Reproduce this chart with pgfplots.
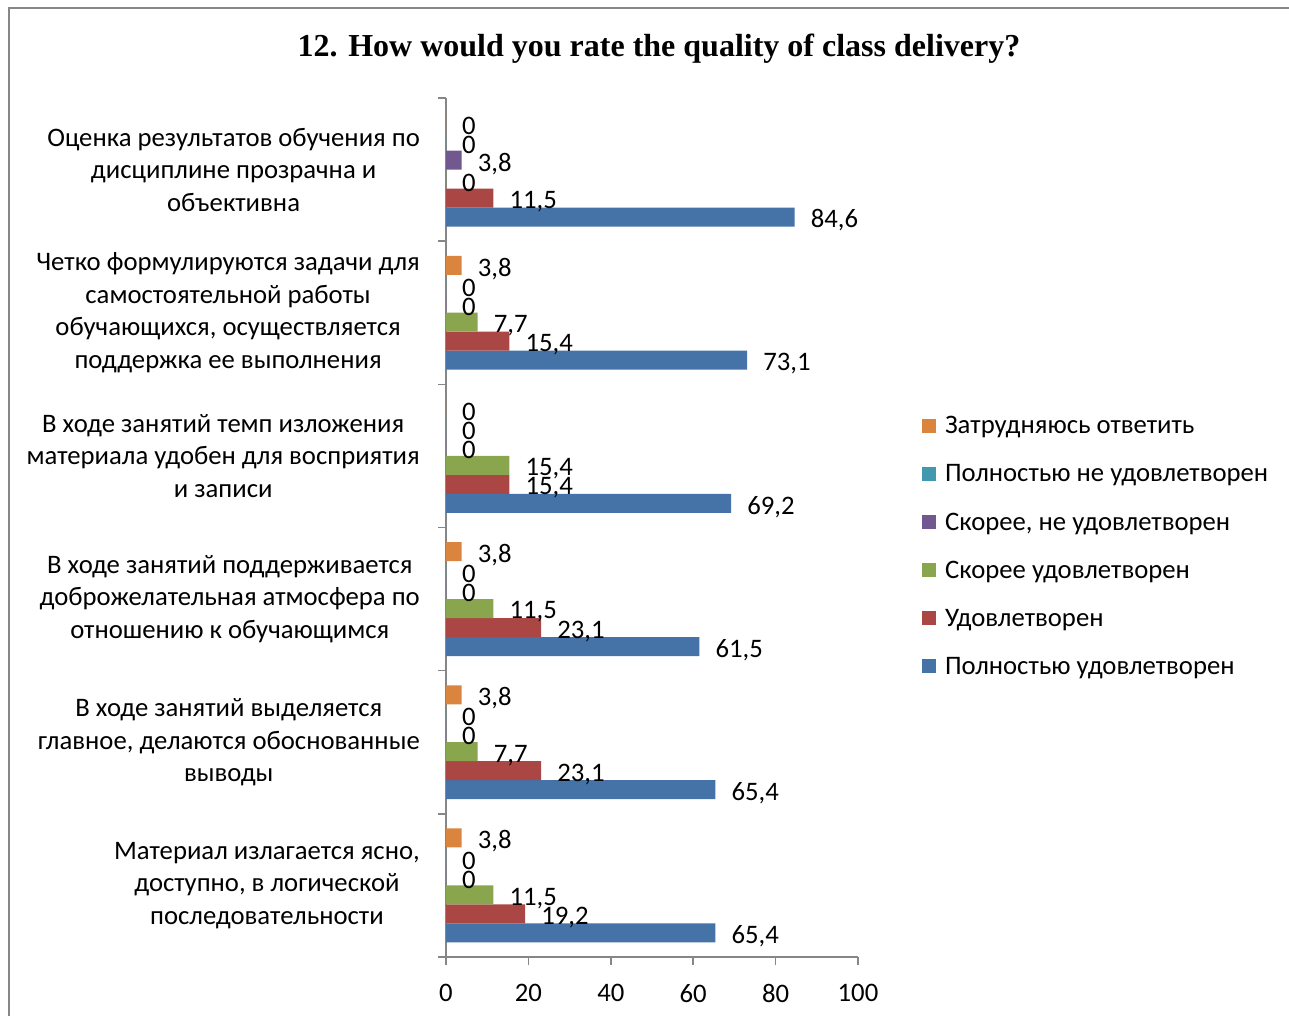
\documentclass[border=0pt]{standalone}
\usepackage{pgfplots}
\pgfplotsset{compat=1.18}
\usepackage{fontspec}
\setmainfont{Carlito}
\newfontfamily\titlefont{Liberation Serif}

\definecolor{cBlue}{HTML}{4572A7}
\definecolor{cRed}{HTML}{AA4643}
\definecolor{cGreen}{HTML}{89A54E}
\definecolor{cPurple}{HTML}{71588F}
\definecolor{cTeal}{HTML}{4198AF}
\definecolor{cOrange}{HTML}{DB843D}
\definecolor{axisGray}{HTML}{868686}
\definecolor{frameGray}{HTML}{878787}

\newcommand{\labfont}{\fontsize{26.7}{32.5}\selectfont}

\begin{document}
\begin{tikzpicture}[x=1pt,y=1pt]
\useasboundingbox (0,0) rectangle (1289,1015);
% outer frame of the chart area
\draw[frameGray, line width=2pt] (9,-10) -- (9,1007) -- (1300,1007);
% title
\node[font=\titlefont\bfseries\fontsize{32}{38}\selectfont, inner sep=0pt, anchor=base] at (659,958)
  {12. How would you rate the quality of class delivery?};

\begin{axis}[
  at={(446pt,58pt)}, anchor=south west,
  scale only axis, width=412pt, height=859pt,
  xmin=0, xmax=100, ymin=-0.5, ymax=5.5,
  xbar, bar width=0.1327,
  axis lines*=left,
  axis line style={-, draw=axisGray, line width=1.5pt},
  tick style={draw=axisGray, line width=1.5pt},
  tick align=outside, major tick length=8pt,
  xtick={0,20,...,100},
  ytick={-0.5,0.5,...,5.5},
  y tick label as interval,
  yticklabels={
    {Материал излагается ясно,\\доступно, в логической\\последовательности},
    {В ходе занятий выделяется\\главное, делаются обоснованные\\выводы},
    {В ходе занятий поддерживается\\доброжелательная атмосфера по\\отношению к обучающимся},
    {В ходе занятий темп изложения\\материала удобен для восприятия\\и записи},
    {Четко формулируются задачи для\\самостоятельной работы\\обучающихся, осуществляется\\поддержка ее выполнения},
    {Оценка результатов обучения по\\дисциплине прозрачна и\\объективна}},
  yticklabel style={align=center, font=\labfont, inner sep=0pt, xshift=-18pt},
  xticklabel style={font=\labfont, inner sep=0pt, yshift=-19pt},
  /pgf/number format/assume math mode=true,
  /pgf/number format/use comma,
  nodes near coords,
  every node near coord/.append style={font=\labfont, inner sep=0pt, anchor=west, xshift=16pt, yshift=-3.5pt, text=black},
  legend style={draw=none, fill=none, at={(1.155,0.476)}, anchor=west, inner sep=0pt,
    font=\labfont, row sep=24.1pt,
    nodes={inner sep=0pt, text height=18pt, text depth=6pt},
    /tikz/every odd column/.append style={column sep=9pt}},
  legend cell align=left,
  reverse legend,
  legend image code/.code={\fill[#1] (0pt,-5pt) rectangle (14pt,9pt);},
]
\addplot[fill=cBlue, draw=none, bar shift=-0.3317] coordinates {(65.4,0) (65.4,1) (61.5,2) (69.2,3) (73.1,4) (84.6,5)};
\addplot[fill=cRed, draw=none, bar shift=-0.199] coordinates {(19.2,0) (23.1,1) (23.1,2) (15.4,3) (15.4,4) (11.5,5)};
\addplot[fill=cGreen, draw=none, bar shift=-0.0663] coordinates {(11.5,0) (7.7,1) (11.5,2) (15.4,3) (7.7,4) (0,5)};
\addplot[fill=cPurple, draw=none, bar shift=0.0663] coordinates {(0,0) (0,1) (0,2) (0,3) (0,4) (3.8,5)};
\addplot[fill=cTeal, draw=none, bar shift=0.199] coordinates {(0,0) (0,1) (0,2) (0,3) (0,4) (0,5)};
\addplot[fill=cOrange, draw=none, bar shift=0.3317] coordinates {(3.8,0) (3.8,1) (3.8,2) (0,3) (3.8,4) (0,5)};
\legend{Полностью удовлетворен, Удовлетворен, Скорее удовлетворен, {Скорее, не удовлетворен}, Полностью не удовлетворен, Затрудняюсь ответить}
\end{axis}
\end{tikzpicture}
\end{document}
